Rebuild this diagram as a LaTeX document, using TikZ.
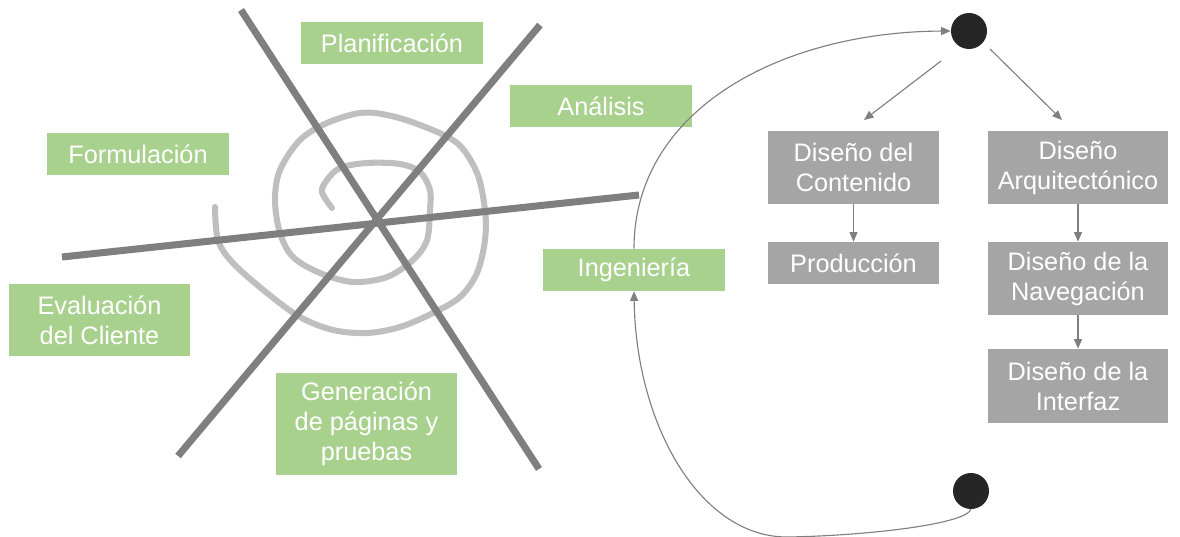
\documentclass[tikz,border=0pt]{standalone}
\usepackage{fontspec}
\setmainfont{Liberation Sans}
\usetikzlibrary{arrows.meta}
\definecolor{verde}{HTML}{A9D18E}
\definecolor{gris}{HTML}{A5A5A5}
\definecolor{ejegris}{HTML}{7F7F7F}
\definecolor{espgris}{HTML}{BFBFBF}
\definecolor{negro}{HTML}{262626}

\begin{document}
\begin{tikzpicture}[x=0.025cm, y=-0.025cm,
		caja/.style={text=white, inner sep=0pt, align=center, font=\fontsize{18}{21.3}\selectfont},
		fase/.style={caja, fill=verde, minimum width=4.55cm, minimum height=1.05cm},
		diseno/.style={caja, fill=gris, minimum width=4.5cm, minimum height=1.825cm},
		eje/.style={line width=5pt, color=ejegris},
		espiral/.style={line width=4.3pt, color=espgris, line cap=round, line join=round},
		flecha/.style={color=ejegris, line width=0.8pt, -{Triangle[length=2.4mm,width=2mm]}},
		punto/.style={circle, fill=negro, minimum size=0.9cm, inner sep=0pt}]
			%%%%% START %%%%%
			\useasboundingbox (0, 0) rectangle (1180, 537);
			
			% espiral
			\draw[espiral] plot[smooth, tension=0.55] coordinates {
				(332, 208) (322, 192) (327, 180) (340, 168) (367, 163) (400, 164)
				(420, 172) (430, 190) (430, 210) (427, 240) (413, 260) (387, 277)
				(353, 282) (320, 273) (293, 257) (280, 233) (275, 200) (280, 170)
				(300, 140) (327, 123) (360, 113) (387, 115) (420, 125) (457, 143)
				(477, 173) (485, 210) (485, 240) (477, 273) (460, 297) (433, 313)
				(400, 327) (367, 333) (333, 330) (300, 317) (267, 293) (233, 263)
				(218, 240) (215, 207)};
			
			% ejes
			\draw[eje] (241, 10) -- (539, 469);
			\draw[eje] (540, 25) -- (178, 456);
			\draw[eje] (62, 257) -- (639, 195);
			
			% fases
			\node[fase] (plan) at (392, 43) {Planificación};
			\node[fase] (anal) at (601, 106) {Análisis};
			\node[fase] (form) at (138, 154) {Formulación};
			\node[fase] (inge) at (634, 270) {Ingeniería};
			\node[fase, minimum width=4.525cm, minimum height=1.8cm] (eval) at (99.5, 320) {Evaluación\\del Cliente};
			\node[fase, minimum width=4.525cm, minimum height=2.55cm] (gene) at (366.5, 424) {Generación\\de páginas y\\pruebas};
			
			% diseno
			\node[punto] (ini) at (969, 31) {};
			\node[punto] (fin) at (971, 491) {};
			\node[diseno, minimum width=4.275cm] (dcont) at (853.5, 167.5) {Diseño del\\Contenido};
			\node[diseno, minimum width=4.275cm, minimum height=1.05cm] (prod) at (853.5, 263) {Producción};
			\node[diseno] (darq) at (1078, 167.5) {Diseño\\Arquitectónico};
			\node[diseno] (dnav) at (1078, 278.5) {Diseño de la\\Navegación};
			\node[diseno, minimum height=1.85cm] (dint) at (1078, 386) {Diseño de la\\Interfaz};
			
			\coordinate (s1) at (941, 61);
			\coordinate (e1) at (864, 120);
			\coordinate (s2) at (990, 49);
			\coordinate (e2) at (1062, 120);
			\coordinate (fondo) at (787, 537);
			
			\draw[flecha] (s1) -- (e1);
			\draw[flecha] (s2) -- (e2);
			\draw[flecha] (dcont) -- (prod);
			\draw[flecha] (darq) -- (dnav);
			\draw[flecha] (dnav) -- (dint);
			
			\draw[flecha] (inge.north) .. controls (634, 110) and (780, 32) .. (ini.west);
			\draw[flecha] (fin.south) .. controls (965, 525) and (860, 536) .. (fondo) .. controls (700, 537) and (636, 425) .. (inge.south);
			
			%%%%% END %%%%%
		\end{tikzpicture}
\end{document}
